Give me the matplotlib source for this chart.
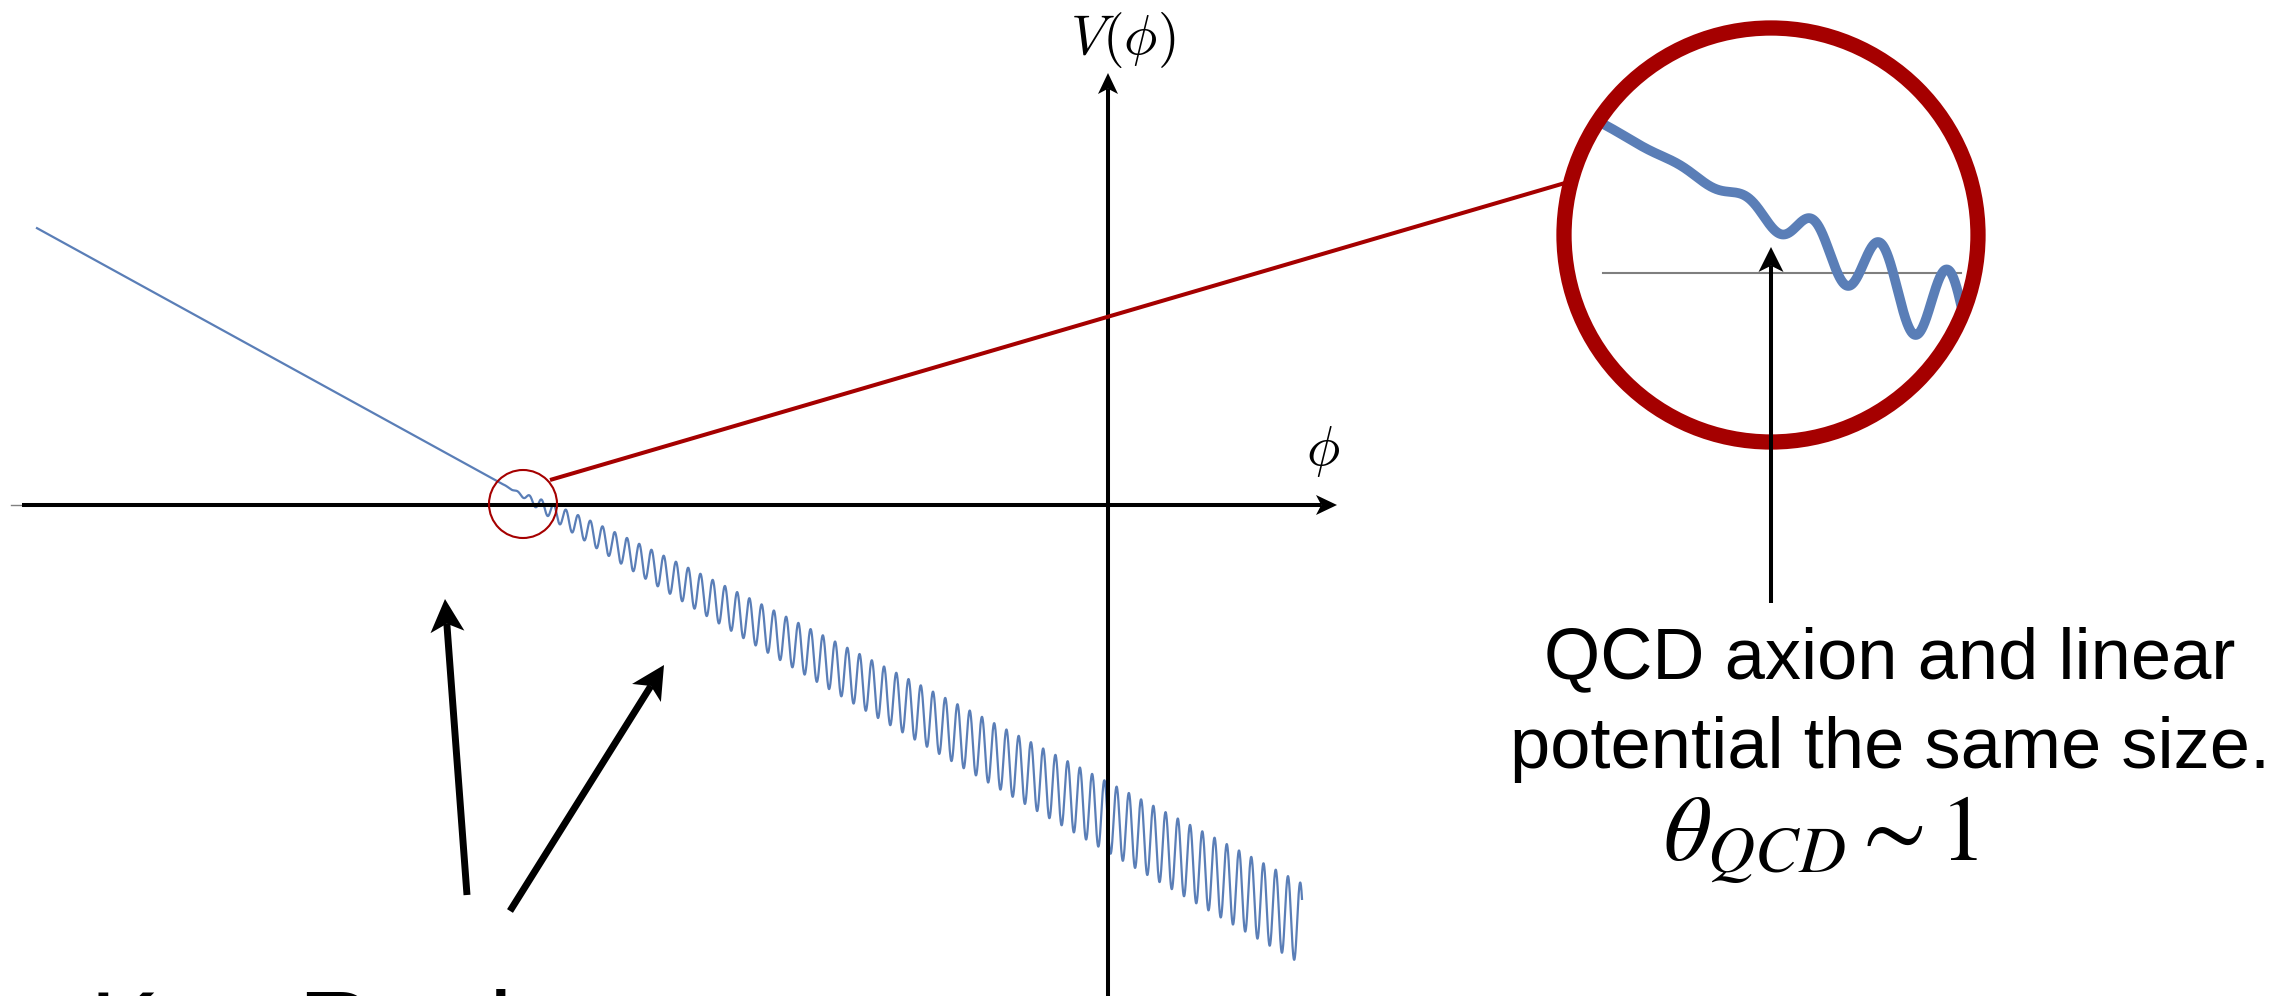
import numpy as np
import matplotlib
matplotlib.use("Agg")
import matplotlib.pyplot as plt
from matplotlib.patches import Circle, Polygon

# V(phi): a linear slope, plus a cosine wiggle that switches on around
# PHI_ONSET and grows like sqrt(phi - PHI_ONSET). Units: 1 unit = 100 px.
PHI_MIN, PHI_MAX = -10.71, 1.94
SLOPE = -0.55
PHI_ONSET = -5.84
V_ONSET = 0.09
ONSET_WIDTH = 0.04
AMP_COEF = 0.145
PERIOD = 0.1224
CREST_PHI = 1.80

# magnified window around the onset
ZOOM_CENTER = (-5.86, 0.068)
ZOOM_HALF = 0.37
ZOOM_PHI = (-6.16, -5.52)
SMALL_CENTER, SMALL_R = (-5.85, 0.01), 0.34
BIG_CENTER, BIG_R = (6.63, 2.70), 2.07

NOTE_LINES = ["QCD axion and linear", "potential the same size."]
NOTE_MATH = r"$\theta_{QCD} \sim 1$"
BOTTOM_LABEL = "Key Region"

BLUE = "#5a7eb7"
RED = "#a50000"

XL, XR = -11.08, 11.77
YB, YT = -4.91, 5.05


def potential(phi):
    lin = V_ONSET + SLOPE * (phi - PHI_ONSET)
    ramp = ONSET_WIDTH * np.logaddexp(0, (phi - PHI_ONSET) / ONSET_WIDTH)
    amp = AMP_COEF * np.sqrt(ramp)
    return lin + amp * np.cos(2 * np.pi * (phi - CREST_PHI) / PERIOD)


def arrow(ax, tail, tip, lw, head_len, head_w, color="black", zorder=5):
    tail = np.asarray(tail, float)
    tip = np.asarray(tip, float)
    d = tip - tail
    d /= np.hypot(*d)
    n = np.array([-d[1], d[0]])
    base = tip - d * head_len
    notch = tip - d * head_len * 0.75
    ax.plot([tail[0], notch[0]], [tail[1], notch[1]], color=color, lw=lw,
            solid_capstyle="butt", zorder=zorder)
    ax.add_patch(Polygon([tip, base + n * head_w, notch, base - n * head_w],
                         closed=True, fc=color, ec="none", zorder=zorder))


fig = plt.figure(figsize=(22.85, 9.96), dpi=100)
ax = fig.add_axes([0, 0, 1, 1])
ax.set_xlim(XL, XR)
ax.set_ylim(YB, YT)
ax.axis("off")

phi = np.linspace(PHI_MIN, PHI_MAX, 30000)
ax.plot(phi, potential(phi), color=BLUE, lw=1.6, zorder=3)

# coordinate axes
ax.plot([-10.97, -10.86], [0, 0], color="gray", lw=1.0, zorder=4)
arrow(ax, (-10.86, 0), (2.29, 0), 2.9, 0.21, 0.10)
arrow(ax, (0, YB - 0.1), (0, 4.32), 2.9, 0.21, 0.10)
ax.text(0.15, 4.65, r"$V(\phi)$", ha="center", va="center", fontsize=40,
        math_fontfamily="cm")
ax.text(2.15, 0.54, r"$\phi$", ha="center", va="center", fontsize=40,
        math_fontfamily="cm")

# small circle on the onset, linked to the magnified view
ax.add_patch(Circle(SMALL_CENTER, SMALL_R, fill=False, ec=RED, lw=1.5, zorder=6))
ax.plot([-5.58, 4.57], [0.25, 3.22], color=RED, lw=2.9, solid_capstyle="butt", zorder=6)

# magnified view
fx0 = (BIG_CENTER[0] - BIG_R - XL) / (XR - XL)
fy0 = (BIG_CENTER[1] - BIG_R - YB) / (YT - YB)
ins = fig.add_axes([fx0, fy0, 2 * BIG_R / (XR - XL), 2 * BIG_R / (YT - YB)])
ins.set_xlim(ZOOM_CENTER[0] - ZOOM_HALF, ZOOM_CENTER[0] + ZOOM_HALF)
ins.set_ylim(ZOOM_CENTER[1] - ZOOM_HALF, ZOOM_CENTER[1] + ZOOM_HALF)
ins.axis("off")
clip = Circle((0.5, 0.5), 0.5, transform=ins.transAxes)
zphi = np.linspace(ZOOM_PHI[0], ZOOM_PHI[1], 4000)
gl, = ins.plot(ZOOM_PHI, [0, 0], color="#7f7f7f", lw=1.5)
bl, = ins.plot(zphi, potential(zphi), color=BLUE, lw=7)
gl.set_clip_path(clip)
bl.set_clip_path(clip)
ins.set_zorder(1)
ax.set_zorder(2)
ax.patch.set_visible(False)

ax.add_patch(Circle(BIG_CENTER, BIG_R, fill=False, ec=RED, lw=11, zorder=6))

# annotation arrows
arrow(ax, (6.63, -0.98), (6.63, 2.58), 2.9, 0.25, 0.125, zorder=7)
arrow(ax, (-6.41, -3.90), (-6.63, -0.94), 5.0, 0.33, 0.17)
arrow(ax, (-5.98, -4.06), (-4.44, -1.60), 5.0, 0.33, 0.17)

ax.text(7.82, -1.73, NOTE_LINES[0], ha="center", va="baseline", fontsize=52,
        family="Liberation Sans")
ax.text(7.82, -2.63, NOTE_LINES[1], ha="center", va="baseline", fontsize=52,
        family="Liberation Sans")
ax.text(7.13, -3.55, NOTE_MATH, ha="center", va="baseline", fontsize=67,
        math_fontfamily="stix")
# label runs off the bottom edge
ax.text(-10.18, -5.59, BOTTOM_LABEL, ha="left", va="baseline", fontsize=75,
        family="Liberation Sans")

fig.savefig("out.png", dpi=100)
